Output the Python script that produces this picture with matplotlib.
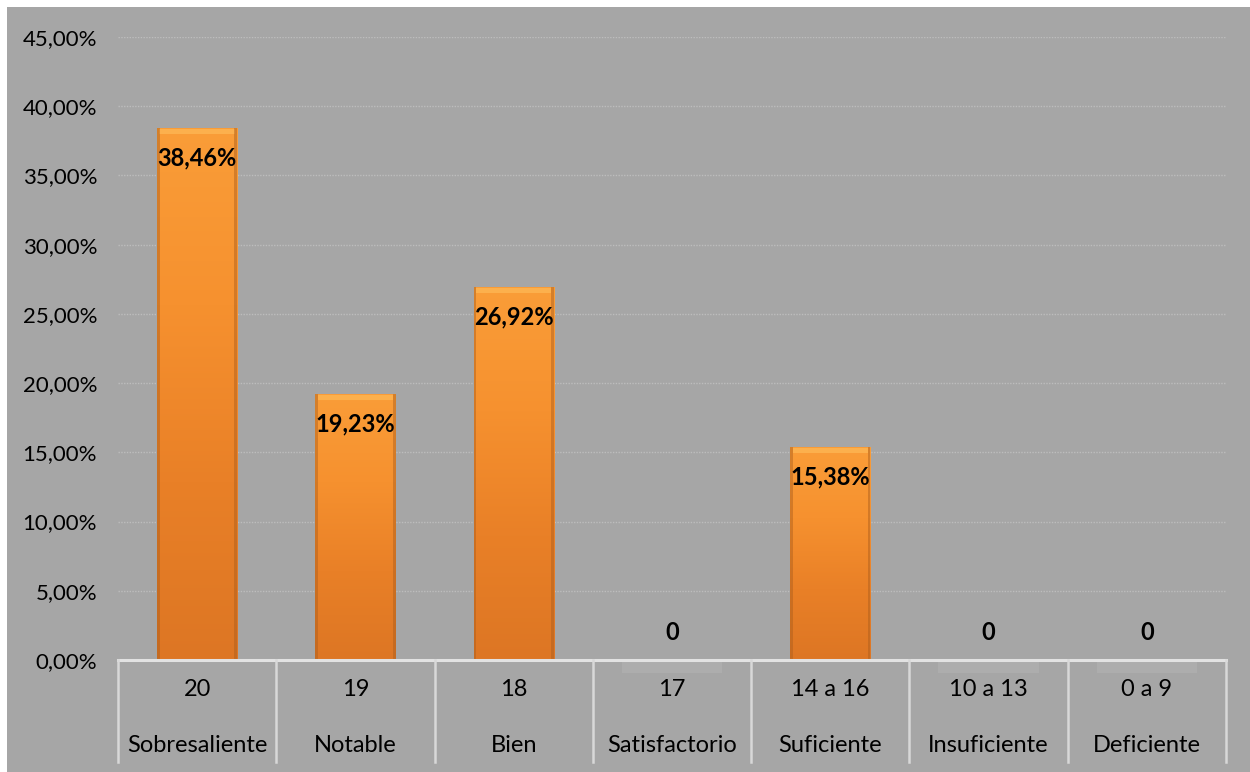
import matplotlib
matplotlib.use("Agg")
import matplotlib.pyplot as plt
import numpy as np
from matplotlib.patches import Rectangle
from matplotlib.colors import LinearSegmentedColormap

codes = ["20", "19", "18", "17", "14 a 16", "10 a 13", "0 a 9"]
names = ["Sobresaliente", "Notable", "Bien", "Satisfactorio", "Suficiente", "Insuficiente", "Deficiente"]
values = [0.3846, 0.1923, 0.2692, 0.0, 0.1538, 0.0, 0.0]
labels = ["38,46%", "19,23%", "26,92%", "0", "15,38%", "0", "0"]
yticks = [0.0, 0.05, 0.10, 0.15, 0.20, 0.25, 0.30, 0.35, 0.40, 0.45]
ytick_labels = ["0,00%", "5,00%", "10,00%", "15,00%", "20,00%", "25,00%", "30,00%", "35,00%", "40,00%", "45,00%"]

plt.rcParams['font.family'] = ['Lato', 'DejaVu Sans']

W, H = 1250, 772
fig = plt.figure(figsize=(W / 100, H / 100), dpi=100)
fig.patch.set_facecolor("white")
bg = "#a6a6a6"
fig.patches.append(Rectangle((7 / W, 0), 1 - 7 / W, 1 - 7 / H, transform=fig.transFigure,
                             facecolor=bg, edgecolor="none", zorder=-10))

ax = fig.add_axes([118 / W, 1 - 660 / H, (1226 - 118) / W, (660 - 37) / H])
ax.set_facecolor(bg)
ax.patch.set_alpha(0)

for s in ax.spines.values():
    s.set_visible(False)

# gridlines
for yv in yticks[1:]:
    ax.axhline(yv, color="#bdbdbd", lw=1.0, ls=(0, (1, 1)), zorder=1)

x = np.arange(len(codes))
bw = 80 / 158
bars = ax.bar(x, values, width=bw, color="#f08a2c", edgecolor="none", zorder=3)

cmap = LinearSegmentedColormap.from_list("org", ["#fa9d38", "#f6912f", "#e98027", "#dd7624"])
grad = np.linspace(0, 1, 256).reshape(-1, 1)
px = 0.45 / 623
for b, v in zip(bars, values):
    if v <= 0:
        continue
    x0, w, h = b.get_x(), b.get_width(), b.get_height()
    im = ax.imshow(grad, aspect="auto", cmap=cmap, extent=(x0, x0 + w, 0, h),
                   origin="upper", zorder=4, interpolation="bicubic")
    im.set_clip_path(b)
    # bevel highlight at top
    ax.add_patch(Rectangle((x0 + w * 0.03, h - 6 * px), w * 0.94, 5 * px, facecolor="#ffbe5c",
                           edgecolor="none", alpha=0.6, zorder=5))
    # dark edges
    ax.add_patch(Rectangle((x0, 0), w * 0.035, h, facecolor="#a95c1c", alpha=0.45, edgecolor="none", zorder=5))
    ax.add_patch(Rectangle((x0 + w * 0.965, 0), w * 0.035, h, facecolor="#a95c1c", alpha=0.45, edgecolor="none", zorder=5))

ax.set_xlim(-0.5, len(codes) - 0.5)
ax.set_ylim(0, 0.45)

# faint shadows for zero bars
sh = 13 * px
for xi, v in zip(x, values):
    if v == 0:
        ax.add_patch(Rectangle((xi - 50 / 158, -sh), 100 / 158, sh, facecolor="#adadad",
                               edgecolor="none", zorder=2, clip_on=False))

# axis line
ax.axhline(0, color="#e2e2e2", lw=2.2, zorder=6, clip_on=False)

# data labels
for xi, v, lab in zip(x, values, labels):
    if v > 0:
        ax.text(xi, v - 30 * px, lab, ha="center", va="center", fontsize=17,
                fontweight="bold", color="black", zorder=7)
    else:
        ax.text(xi, 27 * px, lab, ha="center", va="center", fontsize=17,
                fontweight="bold", color="black", zorder=7)

# y ticks
ax.set_yticks(yticks)
ax.set_yticklabels(ytick_labels, fontsize=16, color="black")
ax.tick_params(axis="y", length=0, pad=15)
ax.set_xticks([])

# category table
ybot = -102 * px
for b in np.arange(-0.5, len(codes), 1.0):
    ax.plot([b, b], [0, ybot], color="#d8d8d8", lw=1.8, clip_on=False, zorder=6)
for xi, c, n in zip(x, codes, names):
    ax.text(xi, -30 * px, c, ha="center", va="center", fontsize=17, color="black")
    ax.text(xi, -86 * px, n, ha="center", va="center", fontsize=17, color="black")

fig.savefig("out.png", dpi=100, facecolor=fig.get_facecolor())
